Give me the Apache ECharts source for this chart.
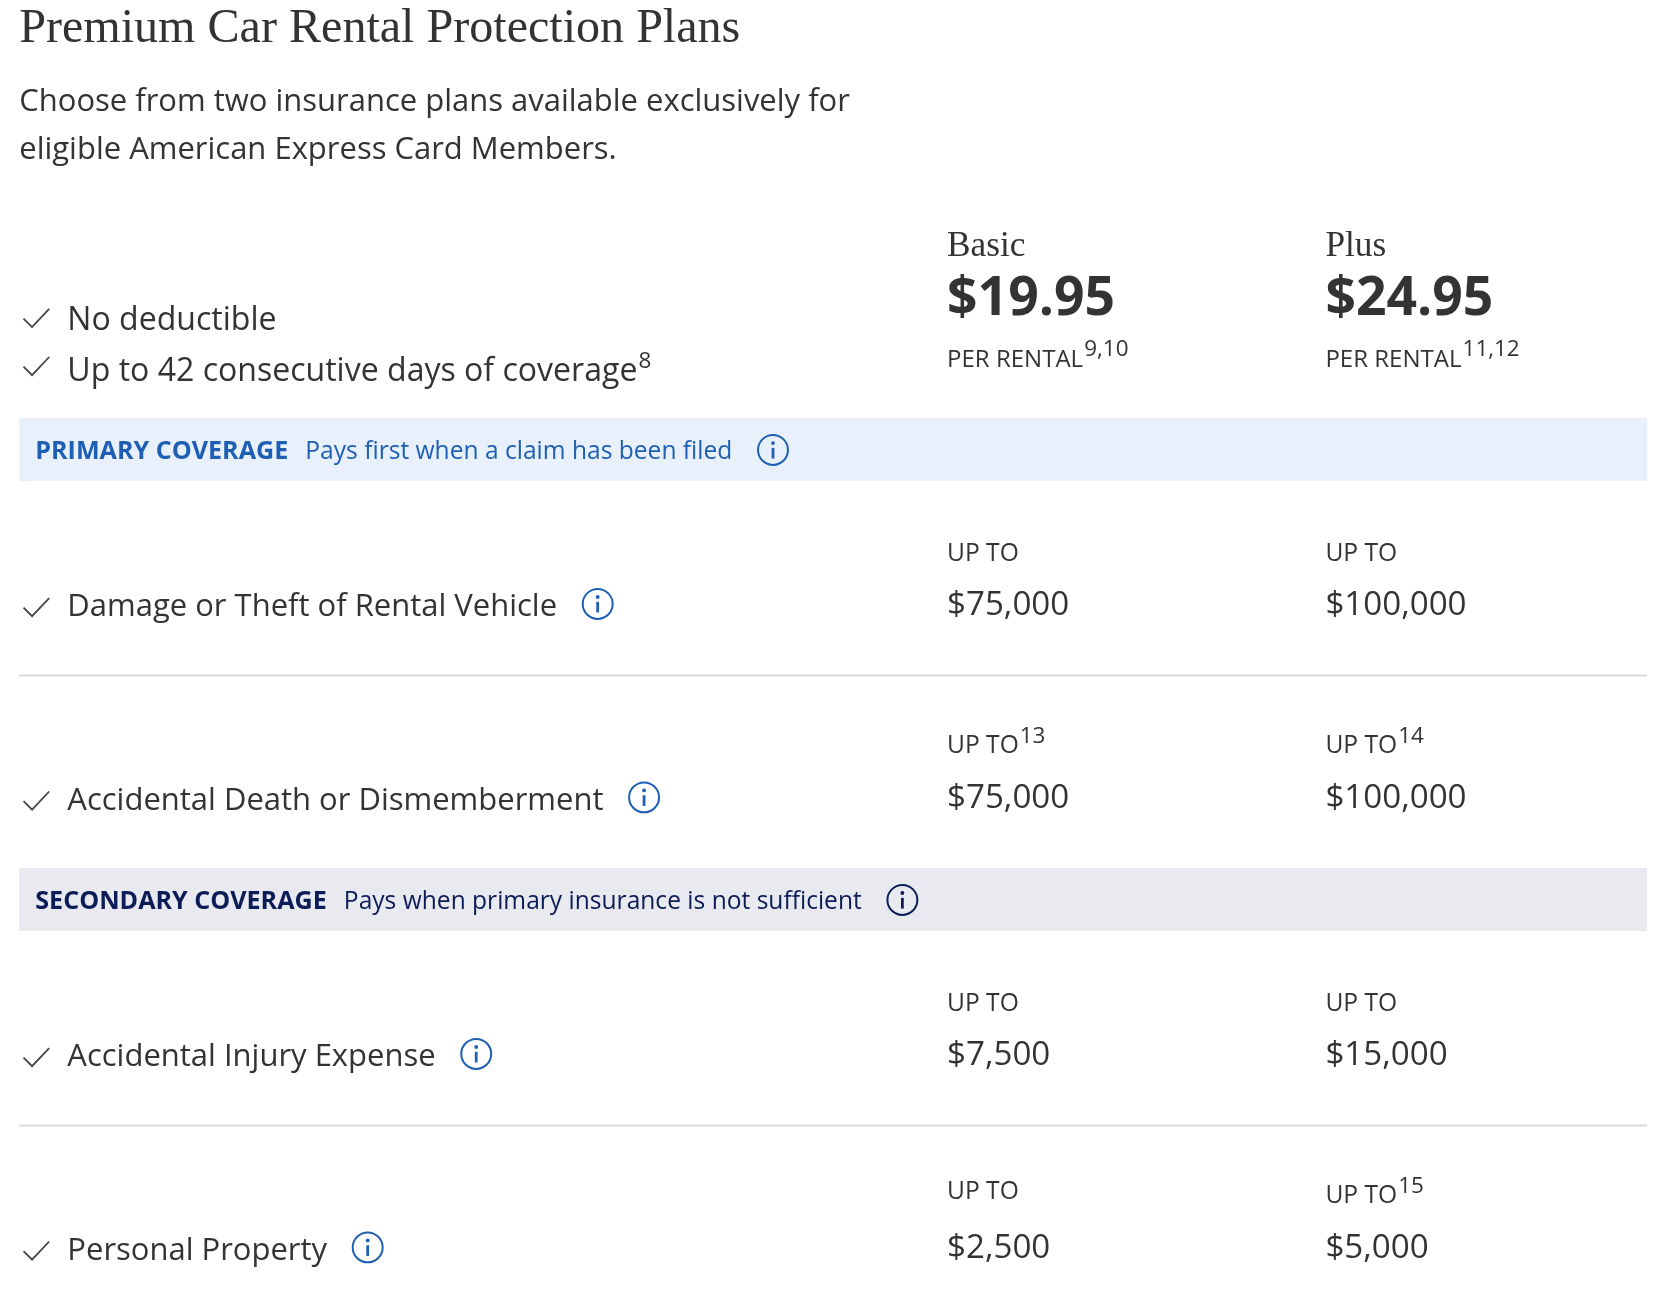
<!DOCTYPE html>
<html><head><meta charset="utf-8">
<script src="https://cdn.jsdelivr.net/npm/echarts@6/dist/echarts.min.js"></script>
<style>html,body{margin:0;padding:0;background:#fff}#c{width:1676px;height:1316px}</style>
</head><body><div id="c"></div>
<script>
const title = 'Premium Car Rental Protection Plans';
const subtitle = ['Choose from two insurance plans available exclusively for', 'eligible American Express Card Members.'];
const features = [['No deductible',''], ['Up to 42 consecutive days of coverage','8']];
const plans = ['Basic', 'Plus'];
const prices = ['$19.95', '$24.95'];
const priceNotes = ['9,10', '11,12'];
const sections = [
  {name:'PRIMARY COVERAGE', desc:'Pays first when a claim has been filed'},
  {name:'SECONDARY COVERAGE', desc:'Pays when primary insurance is not sufficient'}
];
const rowLabels = ['Damage or Theft of Rental Vehicle', 'Accidental Death or Dismemberment', 'Accidental Injury Expense', 'Personal Property'];
const basicValues = ['$75,000', '$75,000', '$7,500', '$2,500'];
const plusValues = ['$100,000', '$100,000', '$15,000', '$5,000'];
const basicNotes = ['', '13', '', ''];
const plusNotes = ['', '14', '', '15'];

const S = 1676/1568;
const SANS = '"Open Sans", "Noto Sans", sans-serif';
const SERIF = '"Liberation Serif", "DejaVu Serif", serif';
const TXT = '#333333';
const DY = 2.5;
const els = [];
function text(x, y, str, size, opt) {
  opt = opt || {};
  const style = {x: x*S, y: (y+DY)*S, text: str, fontSize: size*S, fontFamily: opt.family || SANS,
    fontWeight: opt.weight || 'normal', fill: opt.color || TXT, verticalAlign: 'middle', align: 'left'};
  if (opt.rich) style.rich = opt.rich;
  els.push({type: 'text', style});
}
function supText(x, y, main, sup, size, supSize, opt) {
  opt = opt || {};
  const color = opt.color || TXT;
  const rich = {m: {fontSize: size*S, fontFamily: SANS, fill: color, fontWeight: opt.weight||'normal', verticalAlign:'bottom'},
                s: {fontSize: supSize*S, fontFamily: SANS, fill: color, verticalAlign: 'top', padding:[0,0,size*0.45*S,1]}};
  text(x, y, sup ? '{m|' + main + '}{s|' + sup + '}' : '{m|' + main + '}', size, {rich, color});
}
function check(x, y) {
  els.push({type: 'polyline', shape: {points: [[(x)*S, (y)*S], [(x+8)*S, (y+8)*S], [(x+24)*S, (y-9)*S]]},
    style: {stroke: '#444', lineWidth: 1.8, fill: null}});
}
function info(x, y, color) {
  els.push({type: 'circle', shape: {cx: x*S, cy: y*S, r: 14*S}, style: {stroke: color, lineWidth: 2, fill: 'none'}});
  els.push({type: 'circle', shape: {cx: x*S, cy: (y-6.5)*S, r: 1.8*S}, style: {fill: color}});
  els.push({type: 'rect', shape: {x: (x-1.3)*S, y: (y-2)*S, width: 2.6*S, height: 10*S}, style: {fill: color}});
}
function measure(str, size, weight) {
  const c = document.createElement('canvas').getContext('2d');
  c.font = (weight||'normal') + ' ' + (size*S) + 'px ' + SANS;
  return c.measureText(str).width / S;
}

// header
text(18, 25, title, 45, {family: SERIF, color: '#333'});
text(18, 93, subtitle[0], 29);
text(18, 138, subtitle[1], 29);
const featY = [298, 343];
features.forEach((f, i) => { check(22, featY[i]); supText(63, featY[i], f[0], f[1], 30, 21, {}); });
const colX = [886, 1240];
plans.forEach((p, i) => {
  text(colX[i], 228, p, 33, {family: SERIF});
  text(colX[i], 278, prices[i], 50, {weight: 'bold'});
  supText(colX[i], 330, 'PER RENTAL', priceNotes[i], 22.5, 21, {});
});

// sections
const bandY = [391, 812];
const secColors = [{bg: '#e8f1fb', fg: '#1e5fb4'}, {bg: '#e9eaf0', fg: '#0b1c56'}];
sections.forEach((s, i) => {
  const c = secColors[i];
  els.push({type: 'rect', shape: {x: 18*S, y: bandY[i]*S, width: 1523*S, height: 59*S}, style: {fill: c.bg}});
  const cy = bandY[i] + 29;
  text(33, cy, s.name, 23.5, {weight: 'bold', color: c.fg});
  const w1 = measure(s.name, 23.5, 'bold');
  text(33 + w1 + 16, cy, s.desc, 23, {color: c.fg});
  const w2 = measure(s.desc, 23);
  info(33 + w1 + 16 + w2 + 38, cy + 1, c.fg);
});

// rows
const rowTop = [450, 631, 871, 1052];
rowLabels.forEach((lab, i) => {
  const t = rowTop[i];
  const upY = t + (i % 2 === 0 ? 66 : 61);
  const valY = t + 114;
  const labY = valY + 2;
  check(22, labY + DY);
  text(63, labY, lab, 29);
  const w = measure(lab, 29);
  info(63 + w + 38, labY - 1, '#1e5fb4');
  supText(colX[0], upY, 'UP TO', basicNotes[i], 23, 21, {});
  supText(colX[1], upY, 'UP TO', plusNotes[i], 23, 21, {});
  text(colX[0], valY, basicValues[i], 31);
  text(colX[1], valY, plusValues[i], 31);
  if (i % 2 === 0) {
    els.push({type: 'rect', shape: {x: 18*S, y: (t + 181)*S, width: 1523*S, height: 2}, style: {fill: '#d9d9d9'}});
  }
});

const chart = echarts.init(document.getElementById('c'));
chart.setOption({backgroundColor: '#fff', graphic: {elements: els}});
</script></body></html>
